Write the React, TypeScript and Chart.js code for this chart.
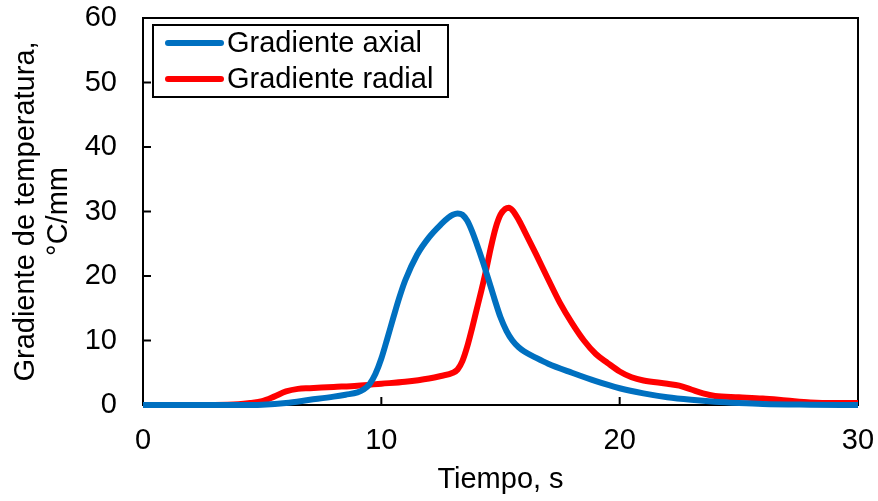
import React, { useEffect, useRef } from "react";
import { Chart, registerables } from "chart.js";

Chart.register(...registerables);

const axialTime = [0, 2, 4, 5, 6, 7, 8, 8.5, 9, 9.25, 9.5, 9.75, 10, 10.25, 10.5, 10.75, 11, 11.5, 12, 12.5, 12.8, 13, 13.2, 13.4, 13.6, 13.8, 14, 14.25, 14.5, 14.75, 15, 15.25, 15.5, 15.75, 16, 16.5, 17, 18, 19, 20, 21, 22, 23, 24, 25, 26, 28, 30];
const axialValues = [0, 0, 0, 0.05, 0.3, 0.8, 1.3, 1.6, 1.95, 2.4, 3.2, 4.8, 7.2, 10.3, 13.5, 16.6, 19.3, 23.3, 26.0, 28.0, 29.0, 29.5, 29.7, 29.5, 28.6, 27.0, 25.0, 22.3, 19.4, 16.4, 13.6, 11.5, 10.0, 9.0, 8.3, 7.3, 6.4, 5.0, 3.7, 2.6, 1.8, 1.2, 0.8, 0.5, 0.3, 0.15, 0.05, 0];

const radialTime = [0, 3, 4, 4.5, 5, 5.5, 6, 6.5, 7, 8, 9, 10, 11, 12, 12.5, 13, 13.2, 13.4, 13.6, 13.8, 14, 14.2, 14.4, 14.6, 14.8, 15, 15.2, 15.35, 15.5, 15.75, 16, 16.5, 17, 17.5, 18, 18.5, 19, 19.5, 20, 20.5, 21, 22, 22.5, 23, 23.5, 24, 25, 26, 27, 28, 29, 30];
const radialValues = [0, 0, 0.1, 0.3, 0.6, 1.3, 2.1, 2.5, 2.6, 2.8, 3.0, 3.3, 3.6, 4.1, 4.5, 5.0, 5.5, 6.8, 9.0, 11.8, 14.8, 17.8, 21.0, 24.5, 27.5, 29.5, 30.4, 30.6, 30.2, 28.8, 27.0, 23.3, 19.5, 15.8, 12.7, 10, 7.9, 6.5, 5.2, 4.3, 3.8, 3.3, 3.0, 2.4, 1.8, 1.4, 1.2, 1.0, 0.7, 0.4, 0.3, 0.3];

const seriesLabels = ["Gradiente axial", "Gradiente radial"];
const seriesColors = ["#0070C0", "#FF0000"];
const xTitle = "Tiempo, s";
const yTitle = ["Gradiente de temperatura,", "°C/mm"];

const FONT = "'Liberation Sans', Arial, sans-serif";
const FS = 29;

const framePlugin = {
  id: "frame",
  beforeDatasetsDraw(chart: any) {
    const { ctx, chartArea: a, scales } = chart;
    ctx.save();
    ctx.strokeStyle = "#000";
    ctx.lineWidth = 2;
    ctx.strokeRect(a.left, a.top, a.right - a.left, a.bottom - a.top);
    ctx.beginPath();
    const tl = 8;
    for (let v = 10; v < 60; v += 10) {
      const y = scales.y.getPixelForValue(v);
      ctx.moveTo(a.left, y);
      ctx.lineTo(a.left + tl, y);
    }
    for (let v = 10; v < 30; v += 10) {
      const x = scales.x.getPixelForValue(v);
      ctx.moveTo(x, a.bottom);
      ctx.lineTo(x, a.bottom - tl);
    }
    ctx.stroke();
    ctx.restore();
  },
};

const legendPlugin = {
  id: "boxLegend",
  afterDraw(chart: any) {
    const { ctx, chartArea: a } = chart;
    const left = a.left + 10;
    const top = a.top + 7;
    const w = 295;
    const h = 72;
    ctx.save();
    ctx.fillStyle = "#fff";
    ctx.fillRect(left, top, w, h);
    ctx.strokeStyle = "#000";
    ctx.lineWidth = 2;
    ctx.strokeRect(left, top, w, h);
    ctx.font = `${FS}px ${FONT}`;
    ctx.textBaseline = "middle";
    ctx.textAlign = "left";
    chart.data.datasets.forEach((ds: any, i: number) => {
      const y = top + 18 + i * 36;
      ctx.strokeStyle = ds.borderColor;
      ctx.lineWidth = 6;
      ctx.lineCap = "round";
      ctx.beginPath();
      ctx.moveTo(left + 15, y);
      ctx.lineTo(left + 68, y);
      ctx.stroke();
      ctx.fillStyle = "#000";
      ctx.fillText(ds.label, left + 74, y + 1);
    });
    ctx.restore();
  },
};

const zeroPad = (s: any) => {
  s.paddingTop = 0;
  s.paddingBottom = 0;
  s.paddingLeft = 0;
  s.paddingRight = 0;
};

export default function App() {
  const ref = useRef<HTMLCanvasElement>(null);
  useEffect(() => {
    if (!ref.current) return;
    const mk = (t: number[], v: number[]) => t.map((x, i) => ({ x, y: v[i] }));
    const chart = new Chart(ref.current, {
      type: "line",
      data: {
        datasets: [
          {
            label: seriesLabels[0],
            data: mk(axialTime, axialValues),
            borderColor: seriesColors[0],
            backgroundColor: seriesColors[0],
            borderWidth: 6,
            pointRadius: 0,
            cubicInterpolationMode: "monotone",
            borderJoinStyle: "round",
            clip: false,
          },
          {
            label: seriesLabels[1],
            data: mk(radialTime, radialValues),
            borderColor: seriesColors[1],
            backgroundColor: seriesColors[1],
            borderWidth: 6,
            pointRadius: 0,
            cubicInterpolationMode: "monotone",
            borderJoinStyle: "round",
            clip: false,
          },
        ],
      } as any,
      options: {
        responsive: false,
        animation: false,
        events: [],
        layout: { padding: { top: 18, right: 20, left: 0, bottom: 0 } },
        plugins: { legend: { display: false }, tooltip: { enabled: false } },
        scales: {
          x: {
            type: "linear",
            min: 0,
            max: 30,
            grid: { display: false },
            border: { display: false },
            ticks: { stepSize: 10, color: "#000", padding: 11, font: { family: FONT, size: FS } },
            title: { display: true, text: xTitle, color: "#000", font: { family: FONT, size: FS }, padding: { top: 0, bottom: 4 } },
            afterFit: (s: any) => { s.height = 96; zeroPad(s); },
          },
          y: {
            type: "linear",
            min: 0,
            max: 60,
            grid: { display: false },
            border: { display: false },
            ticks: { stepSize: 10, color: "#000", padding: 18, font: { family: FONT, size: FS } },
            title: { display: true, text: yTitle, color: "#000", font: { family: FONT, size: FS, lineHeight: 1.14 }, padding: { top: 9, bottom: 0 } },
            afterFit: (s: any) => { s.width = 143; zeroPad(s); },
          },
        },
      } as any,
      plugins: [framePlugin, legendPlugin],
    });
    return () => chart.destroy();
  }, []);
  return (
    <div style={{ position: "fixed", left: 0, top: 0, width: 878, height: 501, background: "#fff" }}>
      <canvas ref={ref} width={878} height={501} />
    </div>
  );
}
